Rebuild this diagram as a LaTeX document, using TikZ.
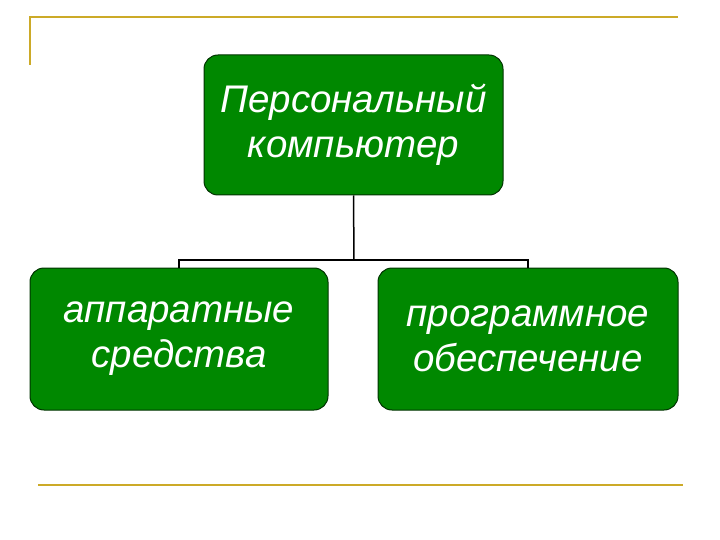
\documentclass[tikz,border=0pt]{standalone}
\usepackage{fontspec}
\setmainfont{Liberation Sans}
\definecolor{gold}{RGB}{204,170,40}
\definecolor{boxgreen}{RGB}{0,136,0}
\begin{document}
\begin{tikzpicture}[x=1pt,y=-1pt,
  gbox/.style={draw=black!80!green,line width=1pt,fill=boxgreen,rounded corners=14pt,text=white,align=center,font=\itshape\fontsize{38.5}{45}\selectfont},
  goldline/.style={draw=gold,line width=1.5pt},
  conn/.style={draw=black,line width=1.5pt}]
\useasboundingbox (0,0) rectangle (720,540);
\node[gbox,minimum width=299pt,minimum height=140pt] (pc) at (353.5,125) {Персональный\\компьютер};
\node[gbox,minimum width=298pt,minimum height=142pt] (hw) at (179,339) {аппаратные\\средства};
\node[gbox,minimum width=300pt,minimum height=142pt] (sw) at (528,339) {программное\\обеспечение};
\coordinate (j) at (354,260);
\draw[conn] (pc.south) -- (j);
\draw[conn] (hw.north) -- (hw.north |- j) -- (sw.north |- j) -- (sw.north);
\coordinate (t1) at (30,65); \coordinate (t2) at (30,17); \coordinate (t3) at (678,17);
\draw[goldline] (t1) -- (t2) -- (t3);
\coordinate (b1) at (38,485); \coordinate (b2) at (683,485);
\draw[goldline] (b1) -- (b2);
\end{tikzpicture}
\end{document}
